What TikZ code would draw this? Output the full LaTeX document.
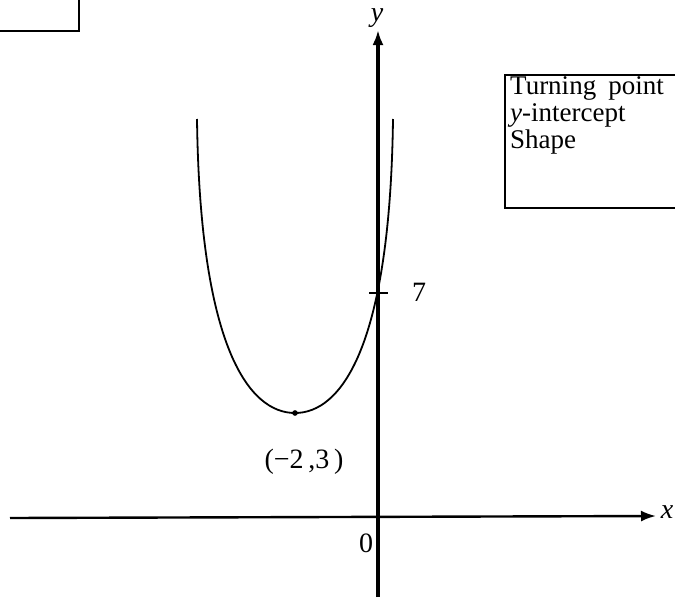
\documentclass[tikz,border=0pt]{standalone}
\usepackage{fontspec}
\setmainfont{Liberation Serif}
\usetikzlibrary{arrows.meta}
\begin{document}
\begin{tikzpicture}[x=1pt,y=-1pt,
  axisline/.style={-{Latex[length=15pt,width=11pt]}},
  curveline/.style={line width=1.8pt},
  lbl/.style={font=\fontsize{28}{30}\selectfont, inner sep=0pt},
  ilbl/.style={font=\itshape\fontsize{28}{30}\selectfont, inner sep=0pt},
  boxline/.style={line width=1.5pt}]
\useasboundingbox (0,0) rectangle (675,600);
\clip (0,0) rectangle (675,600);
% axes
\coordinate (xs) at (10,518);
\coordinate (xe) at (656,516);
\coordinate (ys) at (378,597);
\coordinate (ye) at (378,30);
\draw[axisline, line width=2.4pt] (xs) -- (xe);
\draw[axisline, line width=3.2pt] (ys) -- (ye);
\node[ilbl] (xl) at (667,512) {x};
\node[ilbl] (yl) at (377,18) {y};
\node[lbl] (zero) at (366,543) {0};
% tick at 7
\coordinate (t1) at (369,293);
\coordinate (t2) at (388,293);
\draw[line width=1.6pt] (t1) -- (t2);
\node[lbl] (seven) at (419,292) {7};
% curve
\coordinate (lt) at (197,119);
\coordinate (rt) at (393,119);
\coordinate (vx) at (295,413);
\draw[curveline] (lt) .. controls (200,350) and (250,413) .. (vx)
  .. controls (340,413) and (390,350) .. (rt);
\node[circle, fill, inner sep=2pt] (v) at (vx) {};
\node[lbl] (vl) at (304,462) {(−2\,,3\,)};
% boxes
\draw[boxline] (-5,-5) rectangle (79,31);
\draw[boxline] (505,75) rectangle (690,208);
\node[anchor=north west, align=left, inner sep=0pt,
  font=\fontsize{27}{27}\selectfont] (info) at (510,76)
  {Turning\hspace{0.45em}point\\\textit{y}-intercept\\Shape};
\end{tikzpicture}
\end{document}
